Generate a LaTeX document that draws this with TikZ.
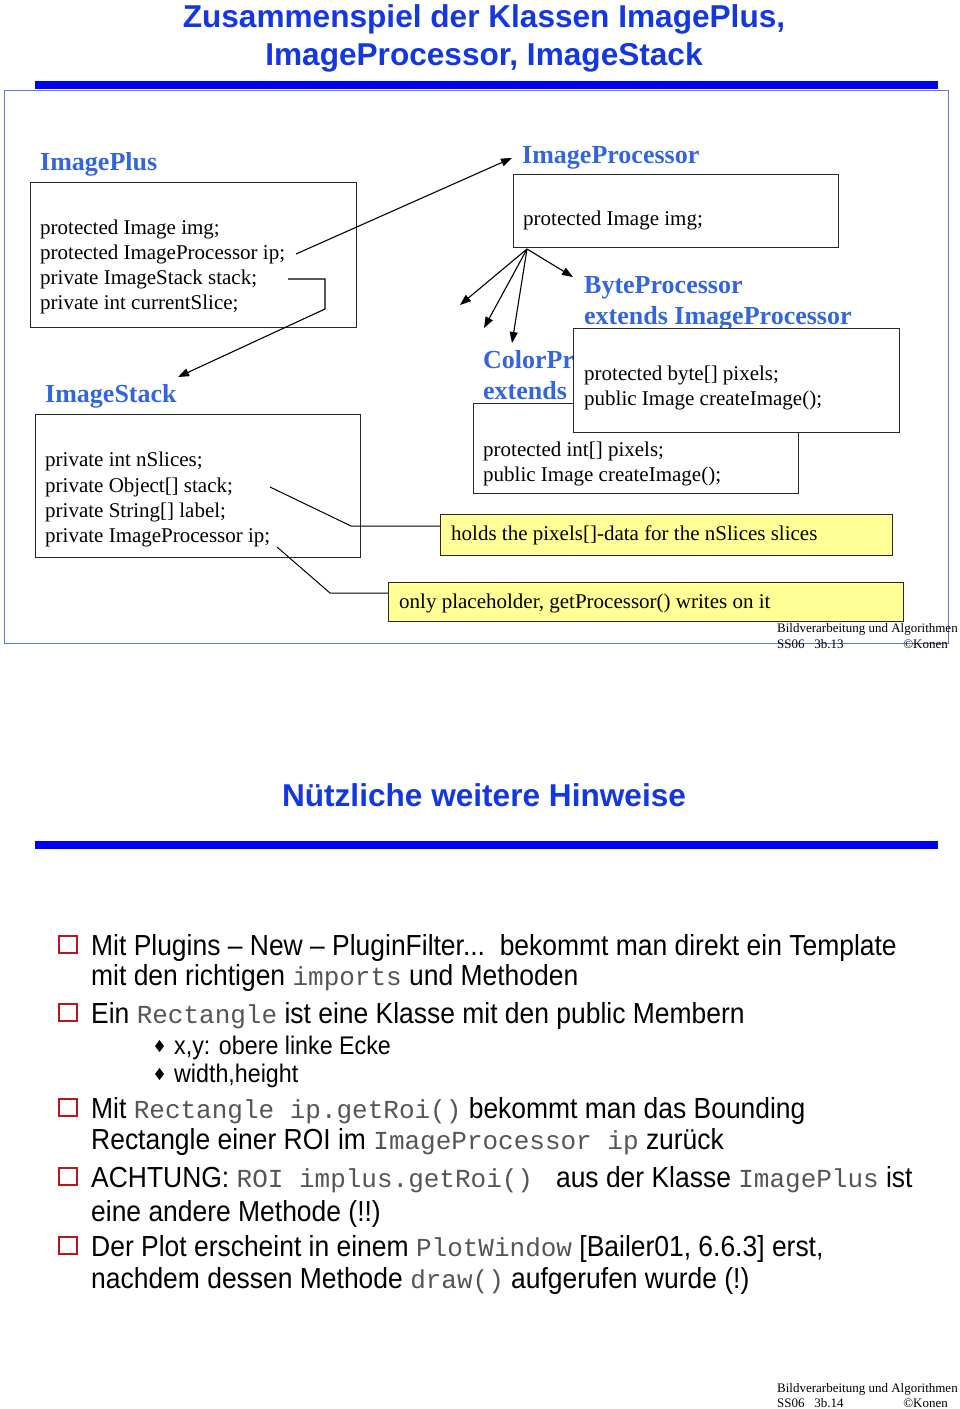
\documentclass[tikz,border=0pt]{standalone}
\usepackage{fontspec}
\setmainfont{Liberation Serif}
\newfontfamily\arialf{Liberation Sans}
\newfontfamily\narrowf[FakeStretch=0.912]{Liberation Sans}
\newfontfamily\monof{Liberation Mono}
\usetikzlibrary{arrows.meta}
\definecolor{titleblue}{RGB}{20,56,224}
\definecolor{barblue}{RGB}{0,0,240}
\definecolor{frameblue}{RGB}{95,115,225}
\definecolor{classblue}{RGB}{51,102,221}
\definecolor{noteyellow}{RGB}{255,255,150}
\definecolor{bulletred}{RGB}{190,20,30}
\definecolor{codegray}{RGB}{85,85,85}
\definecolor{boxgray}{RGB}{40,40,40}
\newcommand{\mycode}[1]{{\monof\fontsize{26}{34}\selectfont\color{codegray}#1}}
\tikzset{
 member/.style={anchor=base west, inner sep=0, font=\fontsize{21}{25}\selectfont},
 cname/.style={anchor=base west, inner sep=0, font=\fontsize{26}{30}\selectfont\bfseries, text=classblue},
 cbox/.style={draw=boxgray, line width=1.2pt, fill=white, anchor=north west, inner sep=0},
 ybox/.style={draw=boxgray, line width=1.2pt, fill=noteyellow, anchor=north west, inner sep=0},
 arr/.style={line width=1.1pt, -{Triangle[length=11pt,width=8pt]}},
 callout/.style={line width=1pt},
 ttl/.style={anchor=base, inner sep=0, font=\arialf\fontsize{31.6}{36}\selectfont\bfseries, text=titleblue},
 foot/.style={anchor=base west, inner sep=0, font=\fontsize{13}{15}\selectfont},
 footr/.style={anchor=base east, inner sep=0, font=\fontsize{13}{15}\selectfont},
 btext/.style={anchor=base west, inner sep=0, font=\narrowf\fontsize{29}{34}\selectfont},
 subtext/.style={anchor=base west, inner sep=0, font=\narrowf\fontsize{25.5}{30}\selectfont},
 sq/.style={draw=bulletred, line width=2.2pt},
}
\begin{document}
\begin{tikzpicture}[x=1pt,y=-1pt]
\useasboundingbox (0,0) rectangle (960,1409);
% ---------- slide 1 ----------
\node[ttl] (t1) at (484,27) {Zusammenspiel der Klassen ImagePlus,};
\node[ttl] (t2) at (484,65) {ImageProcessor, ImageStack};
\draw[frameblue, line width=1pt] (4,90) rectangle (948,643);
\fill[barblue] (35,81) rectangle (938,89);

% ImagePlus
\node[cname] (ipl) at (40,170) {ImagePlus};
\node[cbox, minimum width=326pt, minimum height=145pt] (ipbox) at (30,182) {};
\node[member] (ip1) at (40,234) {protected Image img;};
\node[member] (ip2) at (40,259) {protected ImageProcessor ip;};
\node[member] (ip3) at (40,284) {private ImageStack stack;};
\node[member] (ip4) at (40,309) {private int currentSlice;};

% ImageProcessor
\node[cname] (prl) at (522,163) {ImageProcessor};
\node[cbox, minimum width=325pt, minimum height=73pt] (prbox) at (513,174) {};
\node[member] (pr1) at (523,225) {protected Image img;};

% ColorProcessor (label partly hidden behind the ByteProcessor box)
\node[cname] (cpl1) at (483,368) {ColorPr};
\node[cname] (cpl2) at (483,399) {extends};
\node[cbox, minimum width=325pt, minimum height=90pt] (cpbox) at (473,403) {};
\node[member] (cp1) at (483,456) {protected int[] pixels;};
\node[member] (cp2) at (483,481) {public Image createImage();};

% ByteProcessor
\node[cname] (bpl1) at (584,293) {ByteProcessor};
\node[cname] (bpl2) at (584,324) {extends ImageProcessor};
\node[cbox, minimum width=326pt, minimum height=104pt] (bpbox) at (573,328) {};
\node[member] (bp1) at (584,380) {protected byte[] pixels;};
\node[member] (bp2) at (584,405) {public Image createImage();};

% ImageStack
\node[cname] (isl) at (45,402) {ImageStack};
\node[cbox, minimum width=325pt, minimum height=143pt] (isbox) at (35,414) {};
\node[member] (is1) at (45,466) {private int nSlices;};
\node[member] (is2) at (45,492) {private Object[] stack;};
\node[member] (is3) at (45,517) {private String[] label;};
\node[member] (is4) at (45,542) {private ImageProcessor ip;};

% notes
\node[ybox, minimum width=452pt, minimum height=41pt] (n1) at (440,514) {};
\node[member] (n1t) at (451,540) {holds the pixels[]-data for the nSlices slices};
\node[ybox, minimum width=515pt, minimum height=39pt] (n2) at (388,582) {};
\node[member] (n2t) at (399,608) {only placeholder, getProcessor() writes on it};

% connectors
\coordinate (a1s) at (296,254);
\coordinate (a1e) at (512,158);
\draw[arr] (a1s) -- (a1e);
\coordinate (a2s) at (288,279);
\coordinate (a2e) at (178,377);
\draw[arr] (a2s) -- (325,279) -- (325,309) -- (a2e);
\coordinate (fan) at (527,249);
\coordinate (f1) at (460,305);
\coordinate (f2) at (484,328);
\coordinate (f3) at (512,343);
\coordinate (f4) at (573,277);
\draw[arr] (fan) -- (f1);
\draw[arr] (fan) -- (f2);
\draw[arr] (fan) -- (f3);
\draw[arr] (fan) -- (f4);
\coordinate (c1s) at (270,487);
\draw[callout] (c1s) -- (351,526) -- (n1.west |- 0,526);
\coordinate (c2s) at (277,547);
\draw[callout] (c2s) -- (330,593) -- (n2.west |- 0,593);

\node[foot] (f1a) at (777,632) {Bildverarbeitung und Algorithmen};
\node[foot] (f1b) at (777,648) {SS06\ \ \ 3b.13};
\node[footr] (f1c) at (948,648) {©Konen};

% ---------- slide 2 ----------
\node[ttl] (t3) at (484,806) {Nützliche weitere Hinweise};
\fill[barblue] (35,841) rectangle (938,849);

\draw[sq] (59,936) rectangle (77,953);
\node[btext] (b1a) at (91,955) {Mit Plugins – New – PluginFilter...\ \ bekommt man direkt ein Template};
\node[btext] (b1b) at (91,985) {mit den richtigen \mycode{imports} und Methoden};
\draw[sq] (59,1004) rectangle (77,1021);
\node[btext] (b2a) at (91,1023) {Ein \mycode{Rectangle} ist eine Klasse mit den public Membern};
\fill (159.5,1040) -- (164,1046) -- (159.5,1052) -- (155,1046) -- cycle;
\node[subtext] (b2b) at (174,1054) {x,y: obere linke Ecke};
\fill (159.5,1068) -- (164,1074) -- (159.5,1080) -- (155,1074) -- cycle;
\node[subtext] (b2c) at (174,1082) {width,height};
\draw[sq] (59,1099) rectangle (77,1116);
\node[btext] (b3a) at (91,1118) {Mit \mycode{Rectangle ip.getRoi()} bekommt man das Bounding};
\node[btext] (b3b) at (91,1149) {Rectangle einer ROI im \mycode{ImageProcessor ip} zurück};
\draw[sq] (59,1168) rectangle (77,1185);
\node[btext] (b4a) at (91,1187) {ACHTUNG: \mycode{ROI implus.getRoi() } aus der Klasse \mycode{ImagePlus} ist};
\node[btext] (b4b) at (91,1221) {eine andere Methode (!!)};
\draw[sq] (59,1237) rectangle (77,1254);
\node[btext] (b5a) at (91,1256) {Der Plot erscheint in einem \mycode{PlotWindow} [Bailer01, 6.6.3] erst,};
\node[btext] (b5b) at (91,1288) {nachdem dessen Methode \mycode{draw()} aufgerufen wurde (!)};

\node[foot] (f2a) at (777,1392) {Bildverarbeitung und Algorithmen};
\node[foot] (f2b) at (777,1407) {SS06\ \ \ 3b.14};
\node[footr] (f2c) at (948,1407) {©Konen};
\end{tikzpicture}
\end{document}
